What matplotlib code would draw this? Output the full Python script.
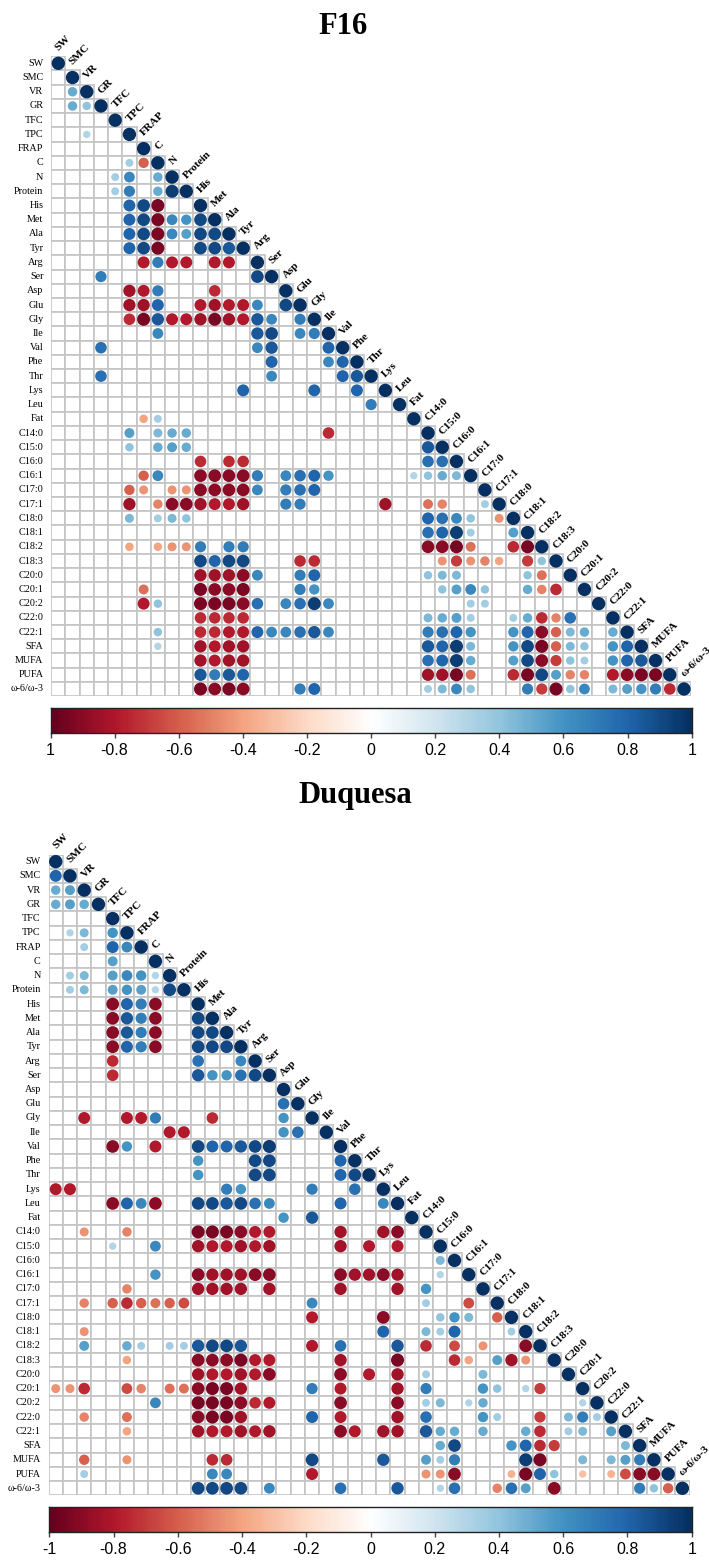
import numpy as np
import matplotlib.pyplot as plt
from matplotlib.colors import LinearSegmentedColormap
from matplotlib.patches import Circle, Rectangle

labels = ["SW", "SMC", "VR", "GR", "TFC", "TPC", "FRAP", "C", "N", "Protein",
          "His", "Met", "Ala", "Tyr", "Arg", "Ser", "Asp", "Glu", "Gly", "Ile",
          "Val", "Phe", "Thr", "Lys", "Leu", "Fat", "C14:0", "C15:0", "C16:0",
          "C16:1", "C17:0", "C17:1", "C18:0", "C18:1", "C18:2", "C18:3",
          "C20:0", "C20:1", "C20:2", "C22:0", "C22:1", "SFA", "MUFA", "PUFA",
          "ω-6/ω-3"]

# one string per row of the lower triangle, one char per column
# '.' = not shown, 'A'..'T' = +0.05..+1.00, 'a'..'t' = -0.05..-1.00
# (spaces only group the columns by five)
f16_rows = [
    "T",
    ".T",
    ".JT",
    ".JHT",
    "....T",
    "..F.. T",
    "..... .T",
    "..... GlT",
    "....G M.JT",
    "....G N.JST",
    "..... PRs.. T",
    "..... PRsML RT",
    "..... PRsMK RRT",
    "..... PRs.. RRQT",
    "..... .pNpp .pp.T",
    "...N. ..... ....R T",
    "..... qpN.. .o... .T",
    "..... qqP.. pqppM .RT",
    "..... osQpp qsqpQ M.NT",
    "..... ..M.. ....Q R.MNT",
    "...O. ..... ....M Q...P T",
    "..... ..... ..... P...M PT",
    "...O. ..... ..... M.... PQT",
    "..... ..... ...P. ...P. .P.T",
    "..... ..... ..... ..... ..N.T",
    "..... .hG.. ..... ..... ..... T",
    "..... K.IJJ ..... ....o ..... .T",
    "..... H.JKJ ..... ..... ..... .QT",
    "..... ..... o.oo. ..... ..... .OOT",
    "..... .lM.. rrrrN .MOPL ..... FHJIT",
    "..... li.ii rrrrM .NOP. ..... ..... T",
    "..... q.jrr qppq. .NN.. ...q. .kj.. GT",
    "..... I.GIH ..... ..... ..... .POMH .iT",
    "..... ..... ..... ..... ..... .OPSG ..KT",
    "..... h.hii N.NN. ..... ..... .rrsk ..osT",
    "..... ..... RPRR. ..oo. ..... ..ini jh.nH T",
    "..... ..... qqqrM ..NP. ..... .HII. ...Hk .T",
    "..... .k... srrs. ..NL. ..... ..HKM H..Jj o.T",
    "..... .pH.. sssrO .MOSM ..... ....G G.... ...T",
    "..... ..... oooo. ..... ..... .IJKG ..GJo jO..T",
    "..... ..H.. ooppP MMOQM ..... .NOPL ..LPr lIJ.J T",
    "..... ..F.. qpqq. ..... ..... .QPSI ..LRs lIH.L PT",
    "..... ..... qpqq. ..... ..... .OPSJ ..KRr nHG.L PQT",
    "..... ..... QNQP. ..... ..... .qqsk ..osR Kjj.p rssT",
    "..... ..... srsr. ..NP. ..... .GIMH ...Nn sHM.I KLNoT",
]

duq_rows = [
    "T",
    "PT",
    "JKT",
    "JKJT",
    "....T",
    ".FI.L T",
    "..G.P MT",
    "....K ..T",
    ".GI.K MLFT",
    ".GI.K LKFRT",
    "....r PNr.. T",
    "....r QNr.. RT",
    "....r QNr.. RRT",
    "....r PNr.. RRRT",
    "....o ..... O..MT",
    "....o ..... QLLOR T",
    "..... ..... ..... .T",
    "..... ..... ..... .OT",
    "..p.. ppN.. .o... .L.T",
    "..... ...pp ..... .LO.T",
    "....r L.p.. RPPQR S.... T",
    "..... ..... L...R R.... PT",
    "..... ..... L...R R.... PRT",
    "pp... ..... ..NL. ...N. .O.T",
    "....r PMr.. RRQRO M.... P..MT",
    "..... ..... ..... .L.Q. ..... T",
    "..i.. j.... sssrp p.... q..qr .T",
    "....F ..M.. qppqp q.... q.p.p ..T",
    "..... ..... ..... ..... ..... ..IT",
    "..... ..L.. rqqqr r.... rqqrq ..F.T",
    "..... j.... qqqq. q.... q...q .L... T",
    "..j.l olklm ..... ...M. ..... .G..m .T",
    "..... ..... ..... ...p. ...r. ..HLI .lT",
    "..i.. ..... ..... ..... ...P. .IGP. ..GT",
    "..K.. JG.GG QRRQ. ...p. O...Q .o.m. i..rT",
    "..... h.... rrrsp p.... q...s ...oh .Kqi. T",
    "..... ..... qppqp r.... r.p.q .G... I.... .T",
    "iio.. mj.kk rssq. ...N. p...q .N... LH.Fn ..T",
    "..... ..M.. sssro p.... r...r .GI.F J.... ..FT",
    "..j.. k.... rssq. ...P. p...q .O... LG..n .INGT",
    "..... h.... qppqp q.... rp.qq .QJJ. J..Jo .GI.K T",
    "..... ..... ..... ..... ..... ..JR. ..LPo n.... IT",
    "..l.. i.... .oo.. ...R. ...Q. .KGN. ...Ss ..I.I KNT",
    "..G.. ..... .MM.. ...p. ..... .iir. ..gsP H.f.g mrrT",
    "..... ..... RRRR. M.... O...Q ..FO. .jOK. r.... .NHlT",
]

f16_ticks = ["1", "-0.8", "-0.6", "-0.4", "-0.2", "0", "0.2", "0.4", "0.6", "0.8", "1"]
duq_ticks = ["-1", "-0.8", "-0.6", "-0.4", "-0.2", "0", "0.2", "0.4", "0.6", "0.8", "1"]

cmap = LinearSegmentedColormap.from_list("corr", [
    "#67001F", "#B2182B", "#D6604D", "#F4A582", "#FDDBC7", "#FFFFFF",
    "#D1E5F0", "#92C5DE", "#4393C3", "#2166AC", "#053061"])


def decode(ch):
    if ch == ".":
        return None
    if ch.isupper():
        return (ord(ch) - 64) * 0.05
    return -(ord(ch) - 96) * 0.05


W, H = 709, 1561
fig = plt.figure(figsize=(W / 100, H / 100), dpi=100)


def box(l, t, r, b):
    return fig.add_axes([l / W, 1 - b / H, (r - l) / W, (b - t) / H])


serif = ["Liberation Serif", "DejaVu Serif"]
narrow = ["Liberation Sans Narrow", "Liberation Sans", "DejaVu Sans"]


def corr_panel(rows, ax):
    n = len(labels)
    ax.set_xlim(-0.5, n - 0.5)
    ax.set_ylim(n - 0.5, -0.5)
    ax.set_aspect("equal")
    ax.axis("off")
    for r in range(n):
        for c in range(r + 1):
            ax.add_patch(Rectangle((c - 0.5, r - 0.5), 1, 1, facecolor="white",
                                   edgecolor="#c4c4c4", lw=1.2, zorder=1))
    for r, row in enumerate(rows):
        vals = [decode(ch) for ch in row.replace(" ", "")]
        for c, v in enumerate(vals):
            if v is None:
                continue
            ax.add_patch(Circle((c, r), 0.47 * np.sqrt(abs(v)),
                                color=cmap((v + 1) / 2), lw=0, zorder=3))
    for i, lab in enumerate(labels):
        ax.text(-1.05, i, lab, ha="right", va="center", fontsize=7.3,
                family=serif, clip_on=False)
        ax.text(i - 0.1, i - 1.0, lab, ha="left", va="center", rotation=45,
                rotation_mode="anchor", fontsize=8, fontweight="bold",
                family=serif, clip_on=False)


def colorbar(ax, ticks):
    ax.imshow(np.linspace(-1, 1, 300)[None, :], aspect="auto", cmap=cmap,
              extent=[-1, 1, 0, 1], vmin=-1, vmax=1)
    ax.set_xlim(-1, 1)
    ax.set_yticks([])
    ax.set_xticks(np.linspace(-1, 1, 11))
    ax.set_xticklabels(ticks, family=narrow, fontsize=11.5)
    ax.tick_params(axis="x", length=3.5, width=1, color="#444444", pad=4)
    for s in ax.spines.values():
        s.set_linewidth(1.0)
        s.set_color("#222222")


ax1 = box(51.2, 56.2, 691.1, 696.1)
corr_panel(f16_rows, ax1)
cb1 = box(50.5, 708, 691.7, 733)
colorbar(cb1, f16_ticks)
fig.text(343 / W, 1 - 26 / H, "F16", ha="center", va="center", fontsize=22,
         fontweight="bold", family=serif)

ax2 = box(48.6, 853.9, 689.5, 1496)
corr_panel(duq_rows, ax2)
cb2 = box(49.3, 1507, 691.7, 1532)
colorbar(cb2, duq_ticks)
fig.text(355 / W, 1 - 796 / H, "Duquesa", ha="center", va="center", fontsize=22,
         fontweight="bold", family=serif)

fig.savefig("out.png", dpi=100)
